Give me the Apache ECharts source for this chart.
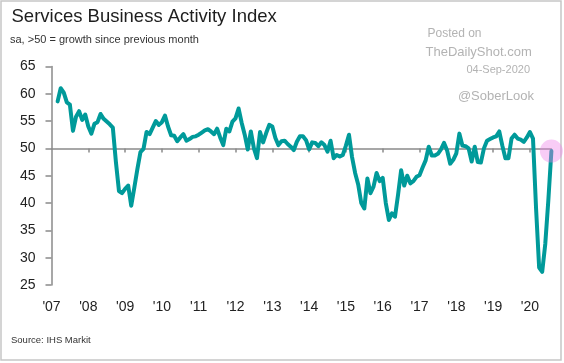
<!DOCTYPE html>
<html>
<head>
<meta charset="utf-8">
<script src="https://cdn.jsdelivr.net/npm/echarts@6/dist/echarts.min.js"></script>
<style>
html,body{margin:0;padding:0;background:#fff;}
#c{width:564px;height:363px;}
</style>
</head>
<body>
<div id="c"></div>
<script>
// ---- data (monthly index values) ----
const yearLabels = ["'07","'08","'09","'10","'11","'12","'13","'14","'15","'16","'17","'18","'19","'20"];
const tickYears = [2007,2008,2009,2010,2011,2012,2013,2014,2015,2016,2017,2018,2019,2020];
const yTicks = [25,30,35,40,45,50,55,60,65];
const firstMonth2007 = 3; // series starts in March 2007
const v2007 = [58.6,61.0,60.2,58.4,58.0,53.2,55.8,56.8,55.2,56.2];
const v2008 = [54.0,52.7,54.5,54.8,56.3,55.4,54.9,54.4,53.8,47.5,42.2,41.8];
const v2009 = [42.6,43.2,39.5,42.8,46.2,49.3,49.9,53.0,52.6,53.8,55.0,54.3];
const v2010 = [54.8,56.0,54.0,52.4,52.3,51.3,52.0,52.6,51.4,51.7,52.1,52.2];
const v2011 = [52.5,52.9,53.3,53.5,53.1,52.6,53.6,52.0,50.6,53.6,53.1,54.9];
const v2012 = [55.5,57.3,54.7,52.5,49.8,53.1,50.0,48.2,53.0,51.1,52.8,54.3];
const v2013 = [54.0,51.9,50.6,51.3,51.4,50.8,50.3,49.7,51.2,52.2,52.2,51.5];
const v2014 = [49.8,51.1,51.0,50.4,51.1,50.6,49.4,51.4,48.2,48.8,48.5,48.8];
const v2015 = [50.5,52.5,48.4,45.5,43.4,40.0,39.0,44.5,41.8,43.0,45.5,44.0];
const v2016 = [44.6,40.0,36.9,38.1,37.5,41.5,46.0,43.2,45.0,43.6,44.0,44.8];
const v2017 = [45.1,46.5,47.8,50.3,48.7,48.7,49.0,49.8,51.0,49.6,47.2,47.9];
const v2018 = [49.1,52.7,50.5,50.4,50.0,47.6,50.3,47.5,47.4,50.0,51.4,51.7];
const v2019 = [52.0,52.2,53.1,50.5,48.2,48.2,51.8,52.5,51.8,51.6,51.2,52.0];
const v2020 = [53.0,51.8,39.0,28.2,27.4,32.5,40.5,49.5];

const yearBlocks = [
  [2007, v2007, firstMonth2007],[2008, v2008, 1],[2009, v2009, 1],[2010, v2010, 1],
  [2011, v2011, 1],[2012, v2012, 1],[2013, v2013, 1],[2014, v2014, 1],[2015, v2015, 1],
  [2016, v2016, 1],[2017, v2017, 1],[2018, v2018, 1],[2019, v2019, 1],[2020, v2020, 1]
];
const seriesData = [];
yearBlocks.forEach(([yr, vals, m0]) => {
  vals.forEach((v, i) => seriesData.push([yr + (m0 - 1 + i) / 12, v]));
});
const lastPoint = seriesData[seriesData.length - 1];

// ---- layout ----
const G = {left: 51.5, right: 12.6, top: 66.4, bottom: 78};
const H = 363, plotH = H - G.top - G.bottom;
const yMin = 25, yMax = 65;
const y50 = G.top + (yMax - 50) / (yMax - yMin) * plotH;
const axisOffset50 = -((H - G.bottom) - y50);

const FONT = '"Liberation Sans", Arial, sans-serif';
const AXIS = '#8a8a8a';
const TXT = '#222222';
const WM = '#b3b3b3';

const chart = echarts.init(document.getElementById('c'), null, {renderer: 'canvas'});
chart.setOption({
  animation: false,
  backgroundColor: '#ffffff',
  grid: {left: G.left, right: G.right, top: G.top, bottom: G.bottom, containLabel: false},
  xAxis: [
    {
      type: 'value', min: 2007, max: lastPoint[0], position: 'bottom',
      axisLine: {show: false}, axisTick: {show: false}, splitLine: {show: false},
      axisLabel: {
        customValues: tickYears, margin: 15, color: TXT, fontFamily: FONT, fontSize: 14,
        formatter: v => yearLabels[tickYears.indexOf(Math.round(v))] || ''
      }
    },
    {
      type: 'value', min: 2007, max: lastPoint[0], position: 'bottom', offset: axisOffset50,
      axisLine: {show: true, lineStyle: {color: AXIS, width: 1.5}},
      axisTick: {show: true, customValues: tickYears.slice(1), length: 4, inside: false, lineStyle: {color: AXIS, width: 1.5}},
      axisLabel: {show: false}, splitLine: {show: false}
    }
  ],
  yAxis: {
    type: 'value', min: yMin, max: yMax, interval: 5,
    axisLine: {show: true, lineStyle: {color: AXIS, width: 1.5}},
    axisTick: {show: true, inside: false, length: 6, lineStyle: {color: AXIS, width: 1.5}},
    axisLabel: {margin: 16, color: TXT, fontFamily: FONT, fontSize: 14},
    splitLine: {show: false}
  },
  series: [
    {
      type: 'line', xAxisIndex: 0, data: seriesData, showSymbol: false, symbol: 'none',
      lineStyle: {color: '#009a9a', width: 4, join: 'round', cap: 'round'}, z: 3
    },
    {
      type: 'scatter', xAxisIndex: 0, data: [lastPoint], symbolSize: 23,
      itemStyle: {color: 'rgba(238,128,232,0.5)'}, z: 4, silent: true
    }
  ],
  graphic: [
    {type: 'rect', shape: {x: 1, y: 1, width: 560, height: 359}, style: {fill: 'none', stroke: '#c6c6c6', lineWidth: 1.5}, silent: true},
    {type: 'text', left: 11.5, top: 7, style: {text: 'Services Business Activity Index', font: '18.5px ' + FONT, fill: '#1e1e1e'}},
    {type: 'text', left: 10, top: 34, style: {text: 'sa, >50 = growth since previous month', font: '11px ' + FONT, fill: '#333333'}},
    {type: 'text', left: 11, top: 335, style: {text: 'Source: IHS Markit', font: '9.5px ' + FONT, fill: '#333333'}},
    {type: 'text', left: 427.5, top: 28, style: {text: 'Posted on', font: '12px ' + FONT, fill: WM}},
    {type: 'text', left: 425.5, top: 45.5, style: {text: 'TheDailyShot.com', font: '13px ' + FONT, fill: WM}},
    {type: 'text', right: 564 - 530, top: 64.5, style: {text: '04-Sep-2020', font: '11px ' + FONT, fill: WM}},
    {type: 'text', right: 564 - 534, top: 89.5, style: {text: '@SoberLook', font: '13px ' + FONT, fill: WM}}
  ]
});
</script>
</body>
</html>
